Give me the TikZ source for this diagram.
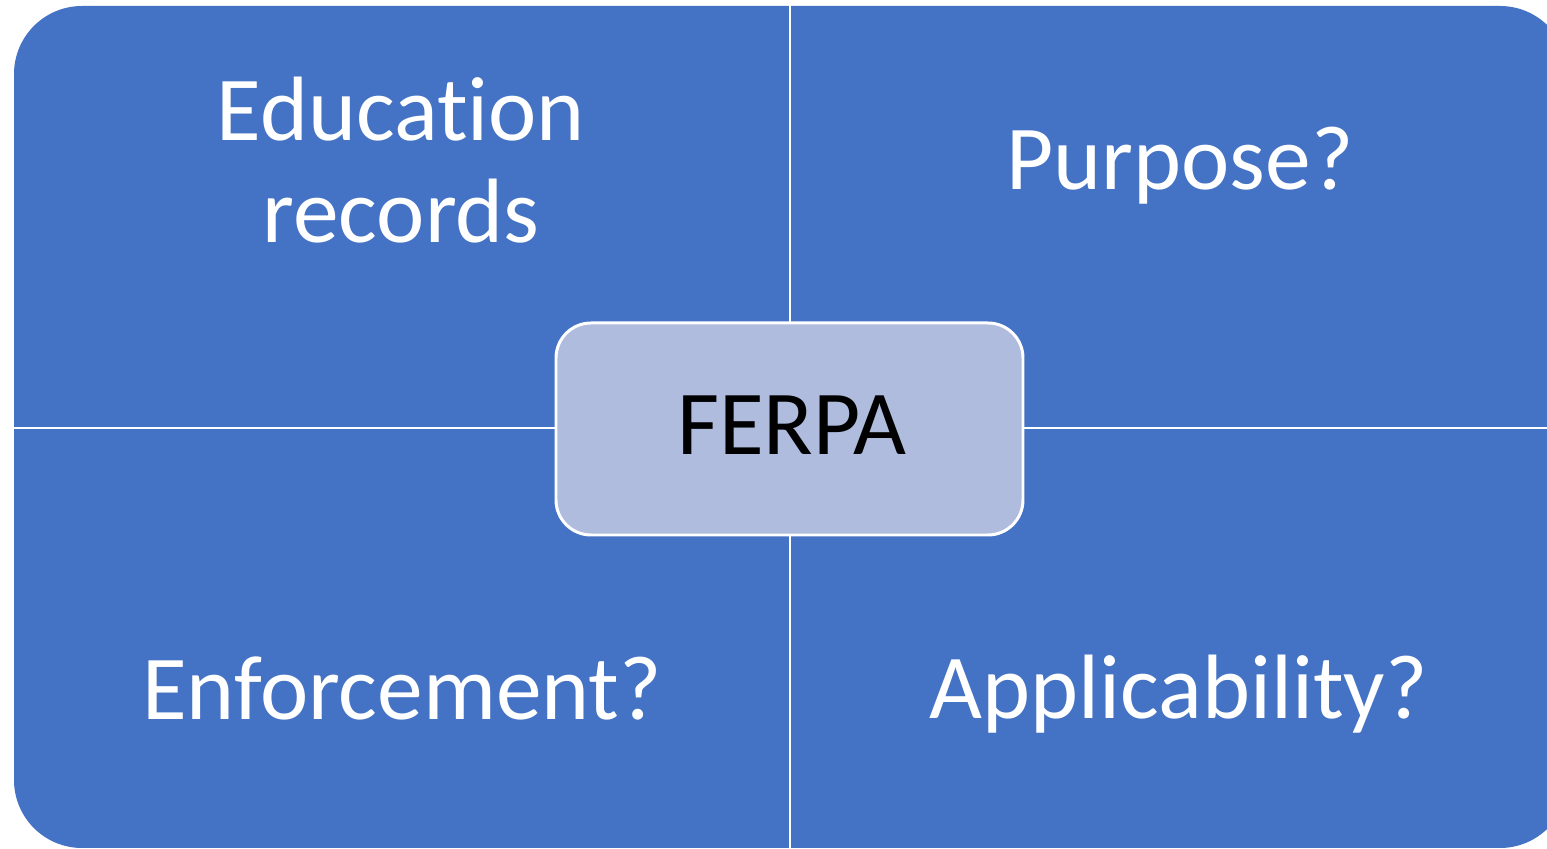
\documentclass[tikz,border=0pt]{standalone}
\usepackage{fontspec}
\setmainfont{Carlito}[Ligatures=NoCommon]
\definecolor{quadblue}{HTML}{4472C4}
\definecolor{hubblue}{HTML}{AFBCDE}
\tikzset{
  quadtext/.style={text=white, font=\fontsize{26}{29}\selectfont, align=center, inner sep=0pt},
  hub/.style={draw=white, line width=0.85pt, fill=hubblue, rounded corners=0.35cm}
}
\begin{document}
\begin{tikzpicture}[x=0.01cm, y=-0.01cm]
  \fill[white] (0,0) rectangle (1547,849);
  \clip (0,0) rectangle (1547,849);
  % matrix background
  \fill[quadblue, rounded corners=0.68cm] (14,6) rectangle (1568,848);
  \coordinate (top) at (790,0);
  \coordinate (bottom) at (790,849);
  \coordinate (left) at (0,428);
  \coordinate (right) at (1547,428);
  \draw[white, line width=0.8pt] (top) -- (bottom);
  \draw[white, line width=0.8pt] (left) -- (right);
  % centre box
  \draw[hub] (556,323) rectangle (1023,535);
  \node[quadtext, anchor=base] (ferpa) at (792,455) {\color{black}FERPA};
  % quadrant labels
  \node[quadtext] (records) at (401,160) {Education\\records};
  \node[quadtext, anchor=base] (purpose) at (1180,190) {Purpose?};
  \node[quadtext, anchor=base] (enforce) at (402,720) {Enforcement?};
  \node[quadtext, anchor=base] (apply) at (1179,719) {Applicability?};
\end{tikzpicture}
\end{document}
